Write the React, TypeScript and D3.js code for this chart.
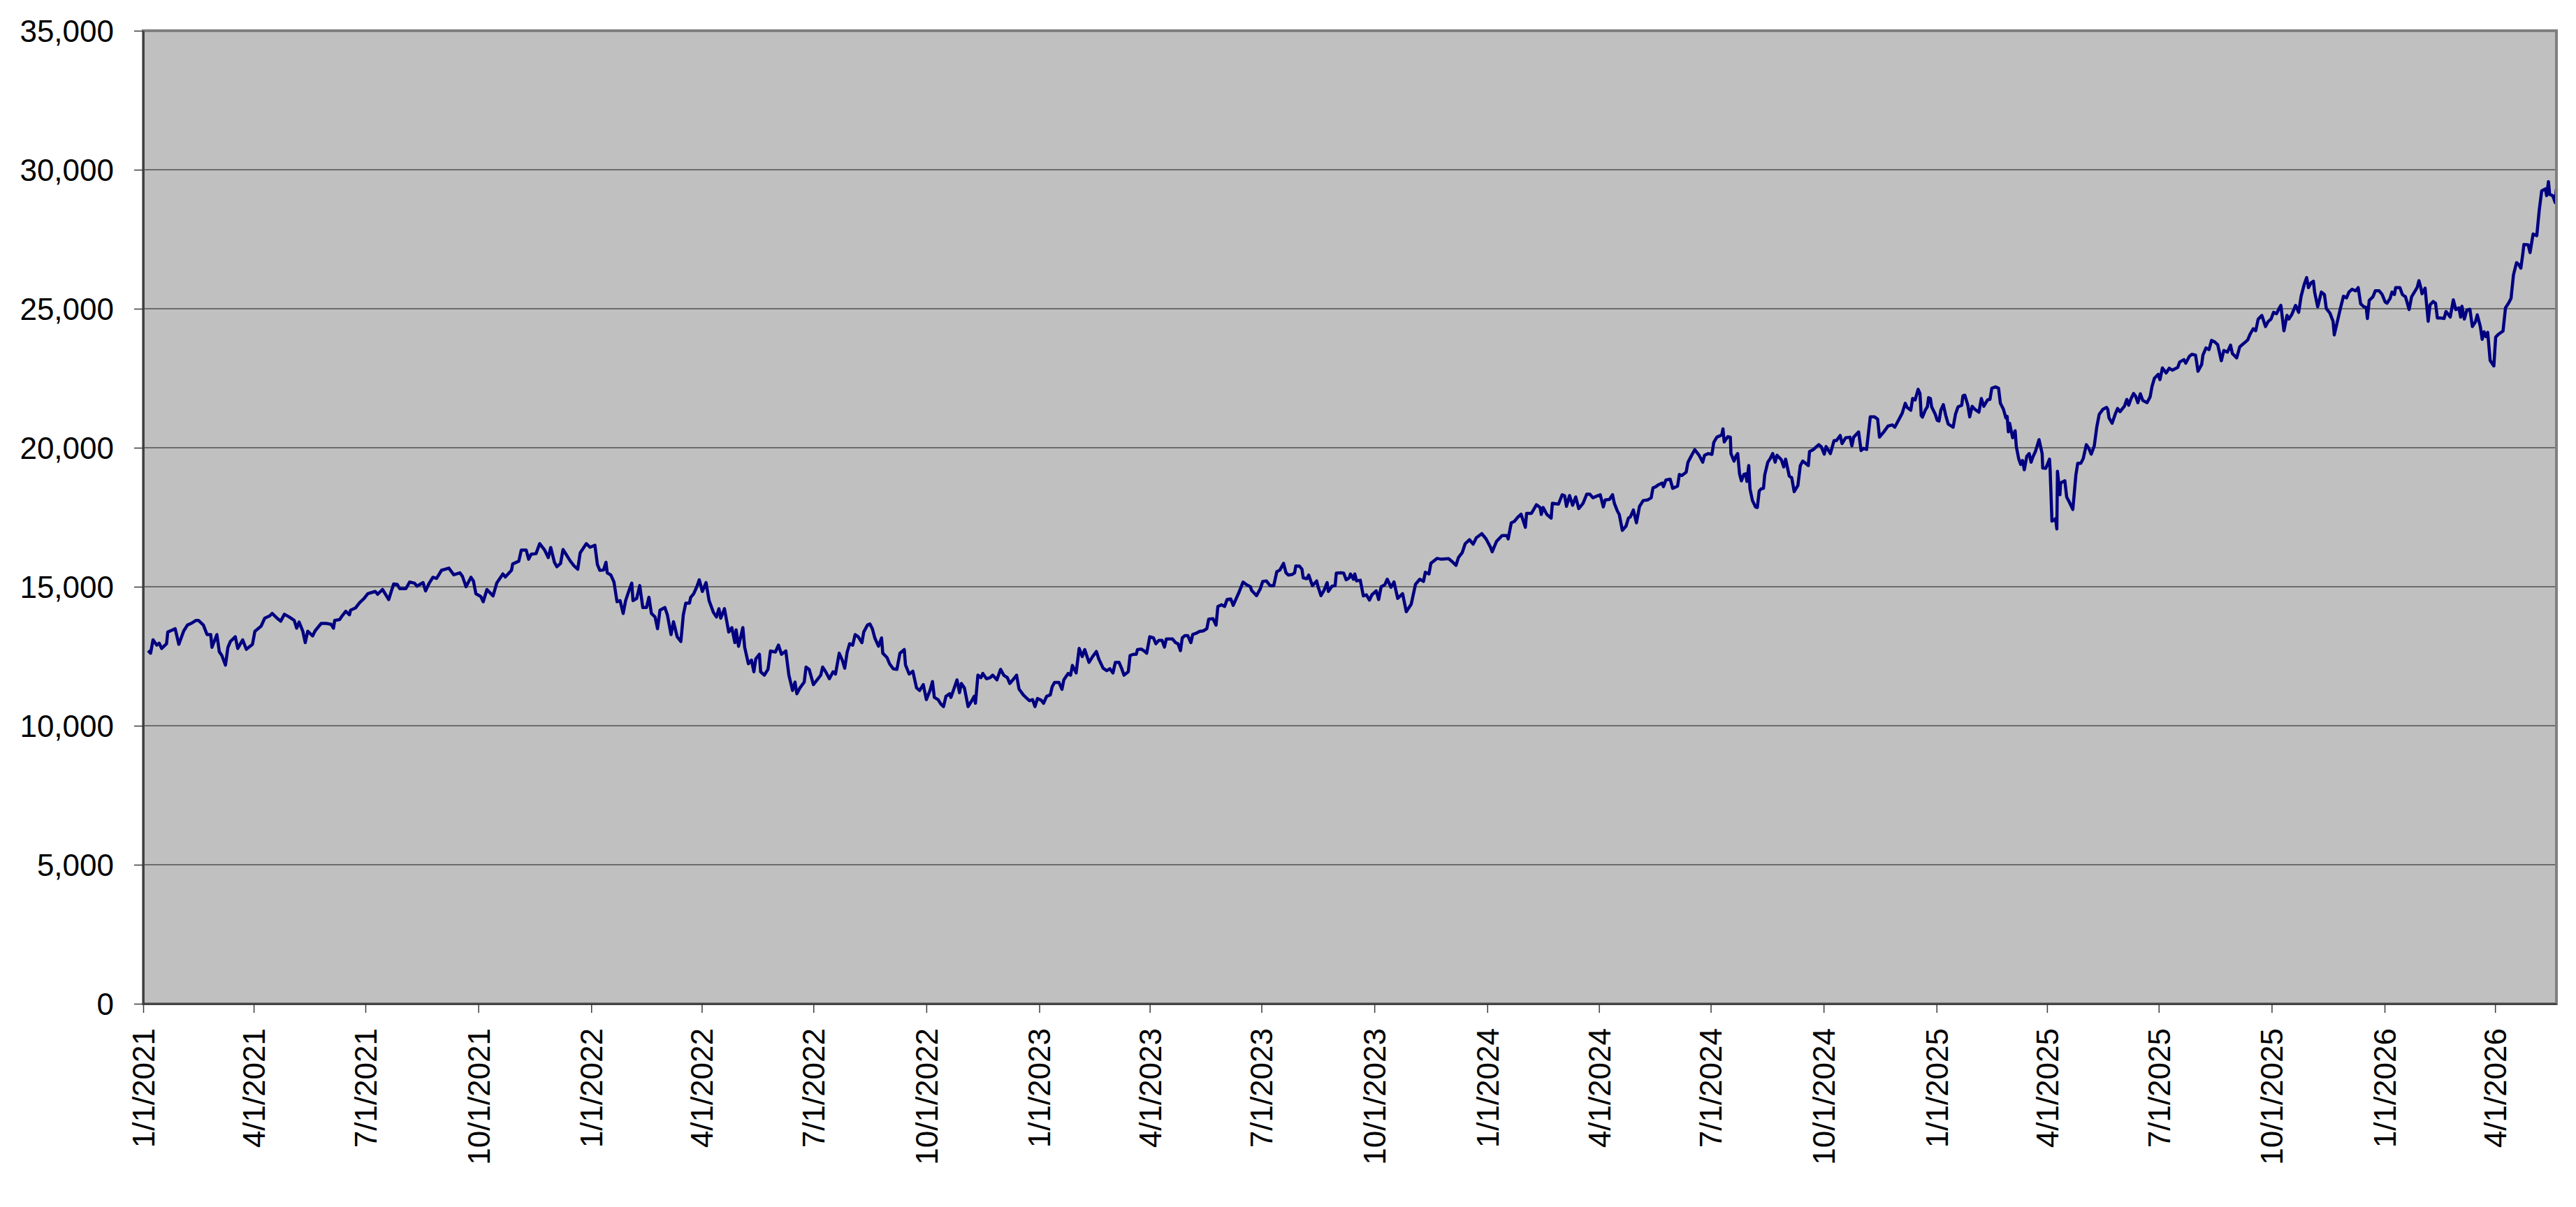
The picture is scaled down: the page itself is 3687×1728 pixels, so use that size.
import { useEffect, useRef } from "react";
import * as d3 from "d3";

const WIDTH = 3687;
const HEIGHT = 1728;
const MARGIN = { top: 44, right: 28, bottom: 291, left: 205 };

const yTicks = [0, 5000, 10000, 15000, 20000, 25000, 30000, 35000];
const xTickLabels = [
  "1/1/2021", "4/1/2021", "7/1/2021", "10/1/2021",
  "1/1/2022", "4/1/2022", "7/1/2022", "10/1/2022",
  "1/1/2023", "4/1/2023", "7/1/2023", "10/1/2023",
  "1/1/2024", "4/1/2024", "7/1/2024", "10/1/2024",
  "1/1/2025", "4/1/2025", "7/1/2025", "10/1/2025",
  "1/1/2026", "4/1/2026",
];

// [days since Jan 1 of the year, value]
const y2021: [number, number][] = [
  [4, 12700], [6, 12610], [8, 13090], [11, 12900], [13, 12970], [15, 12780], [19, 12950], [20, 13370],
  [24, 13450], [26, 13490], [29, 12930], [33, 13410], [36, 13620], [39, 13680], [43, 13790], [45, 13790],
  [49, 13620], [52, 13280], [55, 13280], [56, 12820], [60, 13280], [62, 12660], [64, 12530], [67, 12180],
  [69, 12820], [71, 13030], [75, 13200], [77, 12780], [81, 13090], [84, 12750], [89, 12930], [91, 13400],
  [96, 13580], [99, 13870], [103, 13950], [105, 14040], [109, 13870], [112, 13760], [115, 14010], [119, 13910],
  [123, 13790], [125, 13510], [127, 13730], [130, 13400], [132, 12990], [134, 13400], [138, 13230], [140, 13410],
  [145, 13680], [149, 13680], [153, 13650], [155, 13510], [156, 13790], [160, 13820], [162, 13950], [165, 14120],
  [168, 13990], [169, 14160], [173, 14240], [176, 14410], [180, 14580], [183, 14750], [189, 14830], [191, 14730],
  [195, 14900], [200, 14540], [204, 15100], [207, 15080], [209, 14930], [214, 14930], [217, 15170], [221, 15130],
  [223, 15020], [228, 15150], [230, 14850], [233, 15130], [236, 15340], [239, 15300], [243, 15590], [249, 15670],
  [253, 15430], [258, 15500], [260, 15380], [263, 15000], [267, 15340], [269, 15210], [271, 14750], [275, 14650],
  [277, 14460], [280, 14900], [285, 14670], [288, 15130], [293, 15460], [295, 15350], [300, 15590], [301, 15820],
  [306, 15920], [308, 16320], [312, 16320], [314, 15990], [316, 16170], [320, 16190], [323, 16550], [327, 16320],
  [330, 16050], [332, 16410], [335, 15880], [337, 15720], [340, 15840], [342, 16340], [345, 16130], [348, 15920],
  [351, 15750], [354, 15630], [356, 16220], [361, 16550], [364, 16420],
];

const y2022: [number, number][] = [
  [3, 16490], [5, 15800], [7, 15590], [10, 15600], [12, 15880], [13, 15500], [16, 15420], [18.5, 15170],
  [21, 14460], [23.5, 14500], [26, 14040], [28, 14500], [30.5, 14830], [33, 15130], [34, 14500], [37, 14580],
  [39.5, 15040], [42, 14250], [45, 14250], [47, 14620], [49, 14040], [52, 13910], [54, 13490], [56, 14160],
  [60, 14250], [62, 13990], [65, 13280], [67, 13740], [70, 13200], [73, 13030], [75, 13990], [77, 14410],
  [80, 14410], [81, 14620], [83.5, 14750], [86, 15000], [88, 15250], [90.5, 14830], [93.5, 15150], [96, 14500],
  [99.5, 14080], [102, 13910], [104, 14210], [105.5, 13870], [108.5, 14210], [112, 13370], [114.5, 13530], [117, 12990],
  [118, 13450], [120, 12860], [123.5, 13530], [125, 12820], [128, 12230], [130.5, 12360], [132.5, 11940], [134, 12400],
  [137, 12570], [138, 11940], [141, 11820], [144, 12030], [146, 12690], [150, 12650], [152.5, 12900], [155, 12570],
  [158.5, 12690], [161, 11820], [164, 11270], [166, 11570], [167.5, 11150], [170, 11360], [173.5, 11570], [175, 12110],
  [177.5, 12030], [181, 11480], [184, 11650], [187, 11820], [188.5, 12110], [191, 11940], [194, 11690], [197, 11940],
  [199, 11860], [202, 12610], [204.5, 12360], [206.5, 12070], [208.5, 12650], [210.5, 12950], [213, 12900], [215, 13280],
  [217.5, 13200], [220.5, 12990], [222, 13370], [225, 13620], [227, 13660], [229, 13490], [231, 13160], [234, 12860],
  [236.5, 13160], [237.5, 12610], [241, 12450], [243, 12230], [246, 12050], [249, 12030], [251.5, 12610], [255, 12740],
  [256, 12190], [259, 11860], [262, 11960], [265, 11360], [267.5, 11270], [270.5, 11480], [273, 10940], [276, 11270],
  [278, 11590], [279.5, 11020], [282.5, 10940], [285, 10770], [287, 10690], [289, 11060], [292, 11150], [293, 11020],
  [295, 11270], [298, 11650], [300, 11190], [301.5, 11520], [304, 11360], [307, 10690], [310, 10900], [312, 11060],
  [313, 10810], [315, 11820], [317.5, 11730], [319, 11880], [322, 11690], [325, 11730], [327, 11820], [330.5, 11650],
  [333.5, 12030], [336, 11820], [339, 11730], [341, 11520], [343.5, 11650], [346.5, 11820], [348.5, 11320], [352, 11110],
  [355, 10980], [357, 10900], [359.5, 10940], [361.5, 10690], [363.5, 10980],
];

const y2023: [number, number][] = [
  [1.5, 10920], [3.5, 10810], [6, 11060], [9, 11110], [10.5, 11400], [12.5, 11560], [16, 11560], [18.5, 11310],
  [20, 11650], [23.5, 11880], [25.5, 11820], [27, 12170], [30, 11900], [32.5, 12780], [35, 12490], [37, 12740],
  [40.5, 12280], [43.5, 12490], [46.5, 12670], [48.5, 12400], [52, 12070], [55, 11980], [57.5, 12050], [60, 11900],
  [62, 12280], [65, 12280], [67, 12070], [69, 11820], [72.5, 11940], [74, 12530], [77, 12570], [79, 12570],
  [80, 12740], [83, 12760], [86, 12670], [87.5, 12610], [90, 13200], [93, 13160], [95, 12950], [97.5, 13070],
  [100, 13070], [102, 12830], [103.5, 13120], [108.5, 13120], [111, 12990], [113, 12950], [115, 12700], [116.5, 13160],
  [118.5, 13240], [121, 13240], [123.5, 12990], [125, 13280], [128, 13330], [130.5, 13390], [133.5, 13410], [136.5, 13490],
  [138, 13830], [141.5, 13850], [144, 13620], [145.5, 14290], [148.5, 14350], [151, 14290], [153, 14540], [156, 14560],
  [158, 14330], [160.5, 14580], [163, 14830], [166, 15170], [169, 15070], [172, 15000], [173, 14870], [177, 14680],
  [180, 14920], [182, 15190], [185, 15210], [188, 15040], [191, 15040], [193.5, 15540], [196, 15600], [199, 15840],
  [201, 15500], [203, 15420], [206, 15440], [208, 15500], [209, 15750], [212, 15740], [214, 15630], [215, 15320],
  [218, 15290], [219.5, 15420], [222.5, 15040], [226, 15210], [227, 15020], [229.5, 14680], [232, 14870], [234.5, 15150],
  [235.5, 14830], [238.5, 15020], [241, 15040], [242, 15490], [246, 15500], [248, 15490], [250, 15250], [252.5, 15320],
  [253.5, 15460], [256, 15270], [257, 15460], [258.5, 15210], [261.5, 15235], [264, 14670], [266.5, 14710], [269, 14520],
  [271, 14710], [274.5, 14850], [276.5, 14540], [278.5, 15000], [281.5, 15070], [283.5, 15270], [286.5, 14980], [289, 15170],
  [292, 14580], [296, 14750], [299, 14100], [303, 14370], [306.5, 15090], [310, 15270], [313, 15190], [314.5, 15520],
  [317.5, 15460], [319, 15840], [324, 16020], [327.5, 15990], [333.5, 16010], [336, 15920], [339.5, 15770], [341.5, 16050],
  [344.5, 16220], [347, 16550], [350.5, 16690], [353.5, 16530], [356, 16760], [360.5, 16910], [364, 16720],
];

const y2024: [number, number][] = [
  [2.5, 16430], [4, 16260], [7.5, 16630], [12, 16840], [16, 16840], [17, 16720], [19.5, 17300], [22, 17350],
  [25, 17510], [27.5, 17610], [31, 17140], [32, 17640], [36, 17640], [40, 17950], [43, 17850], [44, 17600],
  [45.5, 17850], [48.5, 17600], [52, 17470], [53, 18000], [58, 17970], [61, 18310], [63, 18270], [64.5, 17890],
  [67, 18280], [69.5, 17930], [72, 18230], [74.5, 17810], [78, 18000], [81, 18330], [83.5, 18330], [86, 18200],
  [92, 18310], [94.5, 17870], [96, 18120], [99.5, 18140], [102, 18310], [103.5, 18000], [106, 17720], [107.5, 17600],
  [110, 17030], [113, 17180], [115, 17470], [116.5, 17510], [119, 17760], [121.5, 17300], [124, 17890], [127, 18100],
  [130.5, 18120], [133.5, 18200], [135, 18560], [137, 18590], [139.5, 18670], [142.5, 18730], [143.5, 18600], [145.5, 18840],
  [149, 18870], [151, 18540], [155, 18620], [156.5, 19040], [158.5, 19000], [162, 19120], [163.5, 19480], [166, 19690],
  [169, 19930], [172.5, 19730], [175.5, 19480], [177, 19730], [180, 19790], [183, 19760], [184.5, 20190], [187, 20380],
  [189.5, 20430], [191, 20460], [192, 20680], [193, 20210], [196, 20400], [198, 20380], [198.5, 19790], [201, 19520],
  [202.5, 19690], [204, 19790], [205.5, 19060], [207, 18810], [209, 19040], [210.5, 19060], [211.5, 18790], [213, 19360],
  [214, 18520], [216, 18100], [218.5, 17870], [220, 17850], [221.5, 18440], [223, 18520], [225, 18540], [226, 19020],
  [228.5, 19480], [230.5, 19610], [232.5, 19790], [234.5, 19480], [236, 19730], [239.5, 19570], [241.5, 19310], [243, 19590],
  [246, 18980], [248, 18920], [250, 18420], [253, 18640], [255, 19360], [257, 19520], [261.5, 19360], [262.5, 19860],
  [265.5, 19930], [270, 20110], [272, 20040], [274.5, 19770], [276, 20040], [279.5, 19790], [282.5, 20260], [284.5, 20260],
  [287.5, 20440], [289, 20150], [292, 20360], [295.5, 20380], [297, 20070], [298.5, 20380], [302.5, 20570], [304.5, 19900],
  [306.5, 19980], [309, 19940], [312, 21110], [315.5, 21110], [318, 21030], [319.5, 20380], [323, 20570], [326.5, 20780],
  [330, 20820], [332, 20740], [335, 20990], [338, 21240], [340.5, 21600], [342, 21450], [345, 21350], [346.5, 21770],
  [348.5, 21720], [351, 22100], [352.5, 21950], [353.5, 21160], [354.5, 21100], [357, 21370], [358.5, 21470], [359.5, 21800],
  [361, 21770], [362, 21470], [365, 21200],
];

const y2025: [number, number][] = [
  [0.5, 20990], [2, 20960], [3.5, 21350], [5.5, 21550], [7.5, 21160], [9.5, 20850], [13.5, 20740], [15.5, 21220],
  [17.5, 21470], [20.5, 21530], [21.5, 21870], [23, 21890], [25.5, 21530], [27, 21110], [29, 21490], [31.5, 21370],
  [34.5, 21280], [36.5, 21770], [38.5, 21490], [41.5, 21720], [43.5, 21740], [45, 22140], [48, 22190], [50.5, 22140],
  [52, 21600], [54.5, 21380], [56.5, 21070], [57.5, 21130], [58.5, 20570], [59.5, 20880], [62, 20360], [64, 20610],
  [65, 20030], [67, 19590], [68.5, 19400], [70, 19540], [71.5, 19210], [73.5, 19690], [75.5, 19790], [77, 19480],
  [78.5, 19670], [80.5, 19860], [83.5, 20290], [86, 19790], [86.5, 19270], [89, 19260], [92, 19590], [92.5, 19230],
  [94, 17360], [95.5, 17390], [97, 17450], [98, 17080], [98.5, 19150], [100.5, 18310], [101, 18730], [104.5, 18810],
  [106, 18230], [108, 18060], [111, 17780], [113.5, 19020], [115, 19440], [117.5, 19440], [119.5, 19610], [122, 20110],
  [124, 19980], [126, 19770], [128.5, 20070], [130.5, 20740], [132.5, 21200], [135.5, 21380], [138.5, 21450], [139.5, 21380],
  [140.5, 21070], [143, 20880], [145.5, 21200], [147.5, 21410], [149.5, 21300], [153, 21490], [155, 21740], [156.5, 21530],
  [158.5, 21770], [160.5, 21950], [162, 21870], [164, 21620], [166, 21940], [168, 21700], [171.5, 21620], [174, 21830],
  [175.5, 22200], [177.5, 22500], [180.5, 22640], [182, 22450], [184, 22870], [187, 22690], [189.5, 22860], [192, 22790],
  [196.5, 22890], [198, 23080], [201.5, 23170], [203, 23040], [206, 23290], [208, 23360], [211, 23330], [213, 22750],
  [216, 23000], [217, 23330], [219.5, 23590], [222, 23530], [224, 23860], [226.5, 23810], [229, 23710], [232, 23130],
  [234, 23500], [237, 23440], [239.5, 23690], [241, 23390], [244.5, 23230], [247, 23630], [251, 23780], [253.5, 23880],
  [255.5, 24090], [258, 24280], [260, 24210], [262, 24620], [265, 24760], [268, 24360], [270, 24530], [272.5, 24630],
  [274.5, 24870], [277, 24820], [279, 25010], [280.5, 25120], [283, 24210], [285.5, 24760], [287, 24630], [289.5, 24800],
  [292.5, 25120], [295, 24870], [297, 25450], [299.5, 25870], [301.5, 26120], [303, 25760], [305, 25930], [307, 25990],
  [308, 25600], [310.5, 25070], [313.5, 25600], [316, 25510], [317.5, 25010], [320.5, 24840], [323, 24550], [324, 24060],
  [327, 24630], [329, 25010], [331.5, 25450], [334, 25390], [336, 25600], [338.5, 25700], [341.5, 25640], [343.5, 25760],
  [345.5, 25180], [348, 25070], [350, 25050], [351, 24650], [352.5, 25300], [355.5, 25430], [357.5, 25650], [360.5, 25650],
  [363, 25510],
];

const y2026: [number, number][] = [
  [0.5, 25240], [2, 25200], [4.5, 25370], [6, 25600], [8, 25510], [9, 25760], [12.5, 25760], [14.5, 25510],
  [17, 25430], [20, 24970], [22, 25430], [25, 25650], [26.5, 25760], [28, 26010], [29.5, 25760], [30.5, 25540],
  [33, 25740], [35.5, 24550], [37, 25140], [39.5, 25260], [41.5, 25200], [43, 24670], [45, 24670], [48.5, 24650],
  [50, 24900], [51.5, 24820], [53.5, 24700], [56, 25320], [58, 24970], [60.5, 25030], [62, 24700], [63, 25090],
  [65, 24630], [67, 24950], [69.5, 24980], [71.5, 24360], [74, 24530], [75.5, 24780], [78, 24360], [79.5, 23900],
  [81, 24170], [82.5, 24000], [84, 24150], [86, 23140], [89, 22940], [90.5, 23980], [93, 24090], [96.5, 24200],
  [98.5, 25030], [101, 25200], [103, 25370], [105, 26220], [107.5, 26660], [109.5, 26580], [111, 26460], [112.5, 26940],
  [113.5, 27310], [117, 27300], [118.5, 27020], [121, 27690], [124, 27630], [126, 28550], [128, 29240], [131, 29310],
  [132, 29070], [133.5, 29570], [134.5, 29110], [137, 29070], [139, 28820], [140, 29310],
];

const yearSeries: [number, [number, number][]][] = [
  [2021, y2021], [2022, y2022], [2023, y2023], [2024, y2024], [2025, y2025], [2026, y2026],
];

const DAY = 86400000;

export default function App() {
  const ref = useRef<SVGSVGElement | null>(null);

  useEffect(() => {
    if (!ref.current) return;
    const svg = d3.select(ref.current);
    svg.selectAll("*").remove();

    const data = yearSeries.flatMap(([year, pts]) =>
      pts.map(([d, v]) => ({ date: new Date(Date.UTC(year, 0, 1) + d * DAY), value: v }))
    );

    const parseLabel = d3.utcParse("%m/%d/%Y");
    const tickDates = xTickLabels.map((s) => parseLabel(s) as Date);

    const innerW = WIDTH - MARGIN.left - MARGIN.right;
    const innerH = HEIGHT - MARGIN.top - MARGIN.bottom;

    const x = d3
      .scaleUtc()
      .domain([tickDates[0], data[data.length - 1].date])
      .range([MARGIN.left, MARGIN.left + innerW]);
    const y = d3
      .scaleLinear()
      .domain([0, 35000])
      .range([MARGIN.top + innerH, MARGIN.top]);

    const font = "'Liberation Sans', Arial, Helvetica, sans-serif";

    // plot area
    svg
      .append("rect")
      .attr("x", MARGIN.left)
      .attr("y", MARGIN.top)
      .attr("width", innerW)
      .attr("height", innerH)
      .attr("fill", "#c0c0c0");

    // gridlines
    svg
      .append("g")
      .selectAll("line")
      .data(yTicks.slice(1, -1))
      .join("line")
      .attr("x1", MARGIN.left)
      .attr("x2", MARGIN.left + innerW)
      .attr("y1", (d) => y(d))
      .attr("y2", (d) => y(d))
      .attr("stroke", "#505050")
      .attr("stroke-width", 1.5);

    // series
    const line = d3
      .line<{ date: Date; value: number }>()
      .x((d) => x(d.date))
      .y((d) => y(d.value));

    svg
      .append("path")
      .datum(data)
      .attr("d", line)
      .attr("fill", "none")
      .attr("stroke", "#000080")
      .attr("stroke-width", 4.5)
      .attr("stroke-linejoin", "round");

    // plot border (top / right)
    svg
      .append("rect")
      .attr("x", MARGIN.left)
      .attr("y", MARGIN.top)
      .attr("width", innerW)
      .attr("height", innerH)
      .attr("fill", "none")
      .attr("stroke", "#808080")
      .attr("stroke-width", 4);

    // y axis
    const yAxis = svg
      .append("g")
      .attr("transform", `translate(${MARGIN.left},0)`)
      .call(
        d3
          .axisLeft(y)
          .tickValues(yTicks)
          .tickSize(13)
          .tickSizeOuter(0)
          .tickPadding(29)
          .tickFormat((d) => d3.format(",")(d as number))
      );
    yAxis.attr("font-family", font).attr("font-size", 44);
    yAxis.select(".domain").attr("stroke", "#3a3a3a").attr("stroke-width", 2.5);
    yAxis.selectAll(".tick line").attr("stroke", "#3a3a3a").attr("stroke-width", 1.5);
    yAxis.selectAll(".tick text").attr("fill", "#000").attr("dy", "0.35em");

    // x axis
    const xAxis = svg
      .append("g")
      .attr("transform", `translate(0,${MARGIN.top + innerH})`)
      .call(
        d3
          .axisBottom(x)
          .tickValues(tickDates)
          .tickSize(13)
          .tickSizeOuter(0)
          .tickFormat((_, i) => xTickLabels[i])
      );
    xAxis.attr("font-family", font).attr("font-size", 44);
    xAxis.select(".domain").attr("stroke", "#3a3a3a").attr("stroke-width", 2.5);
    xAxis.selectAll(".tick line").attr("stroke", "#3a3a3a").attr("stroke-width", 1.5);
    xAxis
      .selectAll(".tick text")
      .attr("fill", "#000")
      .attr("transform", "rotate(-90)")
      .attr("text-anchor", "end")
      .attr("x", -35)
      .attr("y", 0)
      .attr("dy", "0.35em");
  }, []);

  return (
    <svg
      ref={ref}
      width={WIDTH}
      height={HEIGHT}
      style={{ position: "absolute", left: 0, top: 0, background: "#fff", display: "block" }}
    />
  );
}
